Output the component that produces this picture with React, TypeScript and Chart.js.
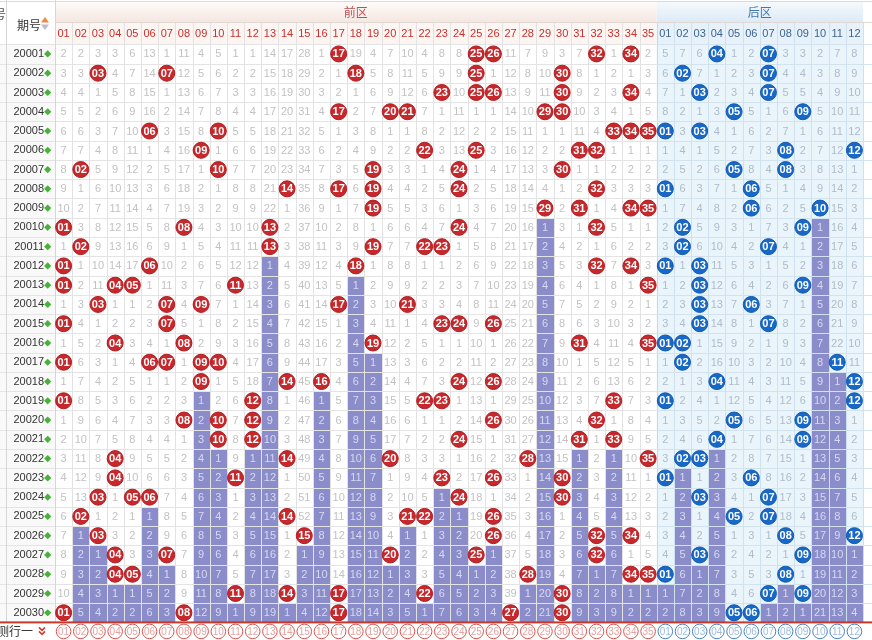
import React, { useEffect, useRef } from 'react';
import { Chart, registerables } from 'chart.js';

Chart.register(...registerables);

const periods = [
  '20001', '20002', '20003', '20004', '20005', '20006', '20007', '20008', '20009', '20010',
  '20011', '20012', '20013', '20014', '20015', '20016', '20017', '20018', '20019', '20020',
  '20021', '20022', '20023', '20024', '20025', '20026', '20027', '20028', '20029', '20030',
];

const frontLabels = [
  '01', '02', '03', '04', '05', '06', '07', '08', '09', '10', '11', '12', '13', '14', '15', '16', '17', '18',
  '19', '20', '21', '22', '23', '24', '25', '26', '27', '28', '29', '30', '31', '32', '33', '34', '35',
];
const backLabels = ['01', '02', '03', '04', '05', '06', '07', '08', '09', '10', '11', '12'];

// drawn front-zone numbers per period
const frontDraws = [
  [17, 25, 26, 32, 34],
  [3, 7, 18, 25, 30],
  [23, 25, 26, 30, 34],
  [17, 20, 21, 29, 30],
  [6, 10, 33, 34, 35],
  [9, 22, 25, 31, 32],
  [2, 10, 19, 24, 30],
  [14, 17, 19, 24, 32],
  [19, 29, 31, 34, 35],
  [1, 8, 13, 24, 32],
  [2, 13, 19, 22, 23],
  [1, 6, 18, 32, 34],
  [1, 4, 5, 11, 35],
  [3, 7, 9, 17, 21],
  [1, 7, 23, 24, 26],
  [4, 8, 19, 31, 35],
  [1, 6, 7, 9, 10],
  [9, 14, 16, 24, 26],
  [1, 12, 22, 23, 33],
  [8, 10, 12, 26, 32],
  [10, 12, 24, 31, 33],
  [4, 14, 20, 28, 35],
  [4, 11, 23, 26, 30],
  [3, 5, 6, 24, 30],
  [2, 14, 21, 22, 26],
  [3, 15, 26, 32, 34],
  [4, 7, 20, 25, 32],
  [4, 5, 28, 34, 35],
  [11, 14, 17, 22, 30],
  [1, 8, 17, 27, 30],
];

// drawn back-zone numbers per period
const backDraws = [
  [4, 7], [2, 7], [3, 7], [5, 9], [1, 3], [8, 12], [5, 8], [1, 6], [6, 10], [2, 9],
  [2, 7], [1, 3], [3, 9], [3, 6], [3, 7], [1, 2], [2, 11], [4, 12], [1, 12], [5, 9],
  [4, 9], [2, 3], [1, 6], [3, 7], [5, 7], [8, 12], [3, 9], [1, 8], [7, 9], [5, 6],
];

// omission counts shown in the first row (20001); 0 = drawn
const frontFirstRow = [
  2, 2, 3, 3, 6, 13, 1, 11, 4, 5, 1, 1, 14, 17, 28, 1, 0, 19, 4, 7, 10, 4, 8, 8, 0, 0, 11, 7, 9, 3, 7, 0, 1, 0, 2,
];
const backFirstRow = [5, 7, 6, 0, 1, 2, 0, 3, 3, 2, 7, 8];

const FONT = "'Liberation Sans', Arial, sans-serif";
const CJK = "'Noto Sans CJK SC', 'Noto Sans', sans-serif";

function buildOmission(draws: number[][], first: number[], n: number): number[][] {
  const rows: number[][] = [];
  for (let r = 0; r < draws.length; r++) {
    const row: number[] = [];
    for (let c = 0; c < n; c++) {
      if (draws[r].includes(c + 1)) row.push(0);
      else if (r === 0) row.push(first[c]);
      else row.push(rows[r - 1][c] + 1);
    }
    rows.push(row);
  }
  return rows;
}

function lastHits(draws: number[][], n: number): number[] {
  const out: number[] = [];
  for (let c = 0; c < n; c++) {
    let last = -1;
    draws.forEach((d, r) => {
      if (d.includes(c + 1)) last = r;
    });
    out.push(last);
  }
  return out;
}

export default function App() {
  const ref = useRef<HTMLCanvasElement>(null);

  useEffect(() => {
    document.body.style.margin = '0';
    const canvas = ref.current;
    if (!canvas) return;

    const nF = frontLabels.length;
    const nB = backLabels.length;
    const allLabels = [...frontLabels, ...backLabels];
    const omF = buildOmission(frontDraws, frontFirstRow, nF);
    const omB = buildOmission(backDraws, backFirstRow, nB);
    const om = omF.map((row, r) => [...row, ...omB[r]]);
    const last = [...lastHits(frontDraws, nF), ...lastHits(backDraws, nB)];

    const frontPts = frontDraws.flatMap((d, r) => d.map((n) => ({ x: n - 1, y: r })));
    const backPts = backDraws.flatMap((d, r) => d.map((n) => ({ x: nF + n - 1, y: r })));

    const gridPlugin = {
      id: 'lotteryGrid',
      beforeDraw(chart: any) {
        const { ctx, chartArea: ca } = chart;
        const xs = chart.scales.x;
        const ys = chart.scales.y;
        const W = chart.width;
        const H = chart.height;
        const L = (c: number) => xs.getPixelForValue(c - 0.5);
        const T = (r: number) => ys.getPixelForValue(r - 0.5);
        const nC = allLabels.length;
        const nR = periods.length;
        const split = L(nF);
        const hTop = 1;
        const hMid = xs.top;
        const hBot = xs.bottom;
        const px = (v: number) => Math.round(v) + 0.5;

        ctx.save();
        ctx.fillStyle = '#ffffff';
        ctx.fillRect(0, 0, W, H);

        // left label column
        ctx.fillStyle = '#f9f9f9';
        ctx.fillRect(0, hBot, ca.left, ca.bottom - hBot);

        // header bands
        let g = ctx.createLinearGradient(0, hTop, 0, hMid);
        g.addColorStop(0, '#fefcfb');
        g.addColorStop(1, '#f5e7e1');
        ctx.fillStyle = g;
        ctx.fillRect(ca.left, hTop, split - ca.left, hMid - hTop);
        g = ctx.createLinearGradient(0, hTop, 0, hMid);
        g.addColorStop(0, '#f6fafd');
        g.addColorStop(1, '#dceaf6');
        ctx.fillStyle = g;
        ctx.fillRect(split, hTop, ca.right - split, hMid - hTop);
        ctx.fillStyle = '#fcf5f2';
        ctx.fillRect(ca.left, hMid, split - ca.left, hBot - hMid);
        ctx.fillStyle = '#e7f1f9';
        ctx.fillRect(split, hMid, ca.right - split, hBot - hMid);

        // cell backgrounds
        ctx.fillStyle = '#ffffff';
        ctx.fillRect(ca.left, ca.top, split - ca.left, ca.bottom - ca.top);
        ctx.fillStyle = '#eaf4fb';
        ctx.fillRect(split, ca.top, ca.right - split, ca.bottom - ca.top);

        // grid lines
        ctx.lineWidth = 1;
        for (let c = 0; c <= nC; c++) {
          const x = px(L(c));
          ctx.strokeStyle = c <= nF ? '#e2e2e2' : '#cfe0ee';
          if (c === nF) ctx.strokeStyle = '#c8d8e6';
          ctx.beginPath();
          ctx.moveTo(x, hMid);
          ctx.lineTo(x, ca.bottom);
          ctx.stroke();
        }
        for (let r = 0; r <= nR; r++) {
          const y = px(T(r));
          ctx.strokeStyle = '#e4e4e4';
          ctx.beginPath();
          ctx.moveTo(0, y);
          ctx.lineTo(split, y);
          ctx.stroke();
          ctx.strokeStyle = '#d2e2ee';
          ctx.beginPath();
          ctx.moveTo(split, y);
          ctx.lineTo(W, y);
          ctx.stroke();
        }
        // header lines
        ctx.strokeStyle = '#e2d8d3';
        ctx.beginPath();
        ctx.moveTo(0, px(hTop));
        ctx.lineTo(W, px(hTop));
        ctx.moveTo(ca.left, px(hMid));
        ctx.lineTo(W, px(hMid));
        ctx.stroke();
        ctx.strokeStyle = '#d6d6d6';
        ctx.beginPath();
        ctx.moveTo(px(ca.left), 0);
        ctx.lineTo(px(ca.left), ca.bottom);
        ctx.moveTo(px(6), 0);
        ctx.lineTo(px(6), ca.bottom);
        ctx.stroke();

        // omission layering (purple cells)
        for (let c = 0; c < nC; c++) {
          for (let r = last[c] + 1; r < nR; r++) {
            const x0 = Math.round(L(c)) + 1;
            const x1 = Math.round(L(c + 1));
            const y0 = Math.round(T(r)) + 1;
            const y1 = Math.round(T(r + 1));
            ctx.fillStyle = '#8a8dca';
            ctx.fillRect(x0, y0, x1 - x0, y1 - y0);
          }
        }

        // omission numbers
        ctx.font = `11px ${FONT}`;
        ctx.textAlign = 'center';
        ctx.textBaseline = 'middle';
        for (let r = 0; r < nR; r++) {
          for (let c = 0; c < nC; c++) {
            const v = om[r][c];
            if (v === 0) continue;
            if (r > last[c]) ctx.fillStyle = '#d8d9f1';
            else ctx.fillStyle = c < nF ? '#c2c2c2' : '#aebccb';
            ctx.fillText(String(v), xs.getPixelForValue(c), ys.getPixelForValue(r) + 0.5);
          }
        }

        // zone titles
        ctx.font = `12px ${CJK}`;
        ctx.fillStyle = '#c0504d';
        ctx.fillText('前区', (ca.left + split) / 2, (hTop + hMid) / 2 + 1);
        ctx.fillStyle = '#4477aa';
        ctx.fillText('后区', (split + ca.right) / 2, (hTop + hMid) / 2 + 1);

        // top-left header
        ctx.fillStyle = '#333333';
        ctx.fillText('期号', 29, 25);
        ctx.textAlign = 'right';
        ctx.fillStyle = '#555555';
        ctx.fillText('号', 6, 14);
        // sort icon
        ctx.fillStyle = '#f08a3c';
        ctx.beginPath();
        ctx.moveTo(45, 17);
        ctx.lineTo(49, 22.5);
        ctx.lineTo(41, 22.5);
        ctx.closePath();
        ctx.fill();
        ctx.fillStyle = '#b9bccb';
        ctx.beginPath();
        ctx.moveTo(41, 24.5);
        ctx.lineTo(49, 24.5);
        ctx.lineTo(45, 30);
        ctx.closePath();
        ctx.fill();

        // green diamonds after period labels
        ctx.fillStyle = '#45b336';
        for (let r = 0; r < nR; r++) {
          const cy = ys.getPixelForValue(r);
          const cx = ca.left - 7.3;
          ctx.beginPath();
          ctx.moveTo(cx, cy - 3.6);
          ctx.lineTo(cx + 3.6, cy);
          ctx.lineTo(cx, cy + 3.6);
          ctx.lineTo(cx - 3.6, cy);
          ctx.closePath();
          ctx.fill();
        }
        ctx.restore();
      },
      afterDatasetsDraw(chart: any) {
        const { ctx } = chart;
        ctx.save();
        ctx.font = `bold 11px ${FONT}`;
        ctx.fillStyle = '#ffffff';
        ctx.textAlign = 'center';
        ctx.textBaseline = 'middle';
        chart.data.datasets.forEach((ds: any, i: number) => {
          const meta = chart.getDatasetMeta(i);
          meta.data.forEach((el: any, j: number) => {
            const p = ds.data[j];
            const label = i === 0 ? frontLabels[p.x] : backLabels[p.x - nF];
            ctx.fillText(label, el.x, el.y + 0.5);
          });
        });
        ctx.restore();
      },
      afterDraw(chart: any) {
        const { ctx, chartArea: ca } = chart;
        const xs = chart.scales.x;
        const W = chart.width;
        ctx.save();
        ctx.fillStyle = '#ffffff';
        ctx.fillRect(0, ca.bottom, W, chart.height - ca.bottom);
        ctx.fillStyle = '#c0392b';
        ctx.fillRect(0, ca.bottom - 1, W, 2);
        const cy = ca.bottom + 9;
        ctx.font = `12px ${CJK}`;
        ctx.fillStyle = '#333333';
        ctx.textAlign = 'right';
        ctx.textBaseline = 'middle';
        ctx.fillText('测行一', 33, cy);
        // red double chevron
        ctx.strokeStyle = '#d23a2e';
        ctx.lineWidth = 1.5;
        ctx.beginPath();
        ctx.moveTo(39, cy - 4);
        ctx.lineTo(42, cy - 1);
        ctx.lineTo(45, cy - 4);
        ctx.moveTo(39, cy);
        ctx.lineTo(42, cy + 3);
        ctx.lineTo(45, cy);
        ctx.stroke();
        ctx.font = `10px ${FONT}`;
        ctx.textAlign = 'center';
        ctx.lineWidth = 1;
        allLabels.forEach((lab, c) => {
          const x = xs.getPixelForValue(c);
          const front = c < nF;
          ctx.beginPath();
          ctx.arc(x, cy, 7.3, 0, Math.PI * 2);
          ctx.fillStyle = '#ffffff';
          ctx.fill();
          ctx.strokeStyle = front ? '#d9534f' : '#4a80c4';
          ctx.stroke();
          ctx.fillStyle = front ? '#e3a4a0' : '#9fbde0';
          ctx.fillText(lab, x, cy + 0.5);
        });
        ctx.restore();
      },
    };

    const chart = new Chart(canvas, {
      type: 'scatter',
      data: {
        datasets: [
          {
            label: '前区',
            data: frontPts,
            backgroundColor: '#c7282c',
            borderColor: '#b01e23',
            borderWidth: 1,
            pointRadius: 8,
            pointHoverRadius: 8,
          },
          {
            label: '后区',
            data: backPts,
            backgroundColor: '#1868c8',
            borderColor: '#125ab0',
            borderWidth: 1,
            pointRadius: 8,
            pointHoverRadius: 8,
          },
        ],
      },
      options: {
        responsive: false,
        animation: false,
        devicePixelRatio: 1,
        events: [],
        layout: { padding: { top: 22.3, left: 0, right: 0, bottom: 13.3 } },
        plugins: { legend: { display: false }, tooltip: { enabled: false } },
        scales: {
          x: {
            type: 'linear',
            position: 'top',
            min: -0.5,
            max: allLabels.length - 0.5,
            bounds: 'data',
            grid: { display: false, drawTicks: false },
            border: { display: false },
            afterBuildTicks: (s: any) => {
              s.ticks = allLabels.map((_, i) => ({ value: i }));
            },
            afterFit: (s: any) => {
              s.height = 22;
            },
            ticks: {
              autoSkip: false,
              maxRotation: 0,
              minRotation: 0,
              padding: 4,
              font: { family: FONT, size: 11 },
              color: (c: any) => (c.index < nF ? '#c9302c' : '#3d6590'),
              callback: (v: any) => allLabels[Math.round(Number(v))],
            },
          },
          y: {
            type: 'linear',
            position: 'left',
            reverse: true,
            min: -0.5,
            max: periods.length - 0.5,
            bounds: 'data',
            grid: { display: false, drawTicks: false },
            border: { display: false },
            afterBuildTicks: (s: any) => {
              s.ticks = periods.map((_, i) => ({ value: i }));
            },
            afterFit: (s: any) => {
              s.width = 55;
            },
            ticks: {
              autoSkip: false,
              padding: 11,
              font: { family: FONT, size: 11 },
              color: '#333333',
              callback: (v: any) => periods[Math.round(Number(v))],
            },
          },
        },
      } as any,
      plugins: [gridPlugin],
    });

    return () => chart.destroy();
  }, []);

  return (
    <div style={{ width: 872, height: 640 }}>
      <canvas ref={ref} width={872} height={640} style={{ display: 'block' }} />
    </div>
  );
}
